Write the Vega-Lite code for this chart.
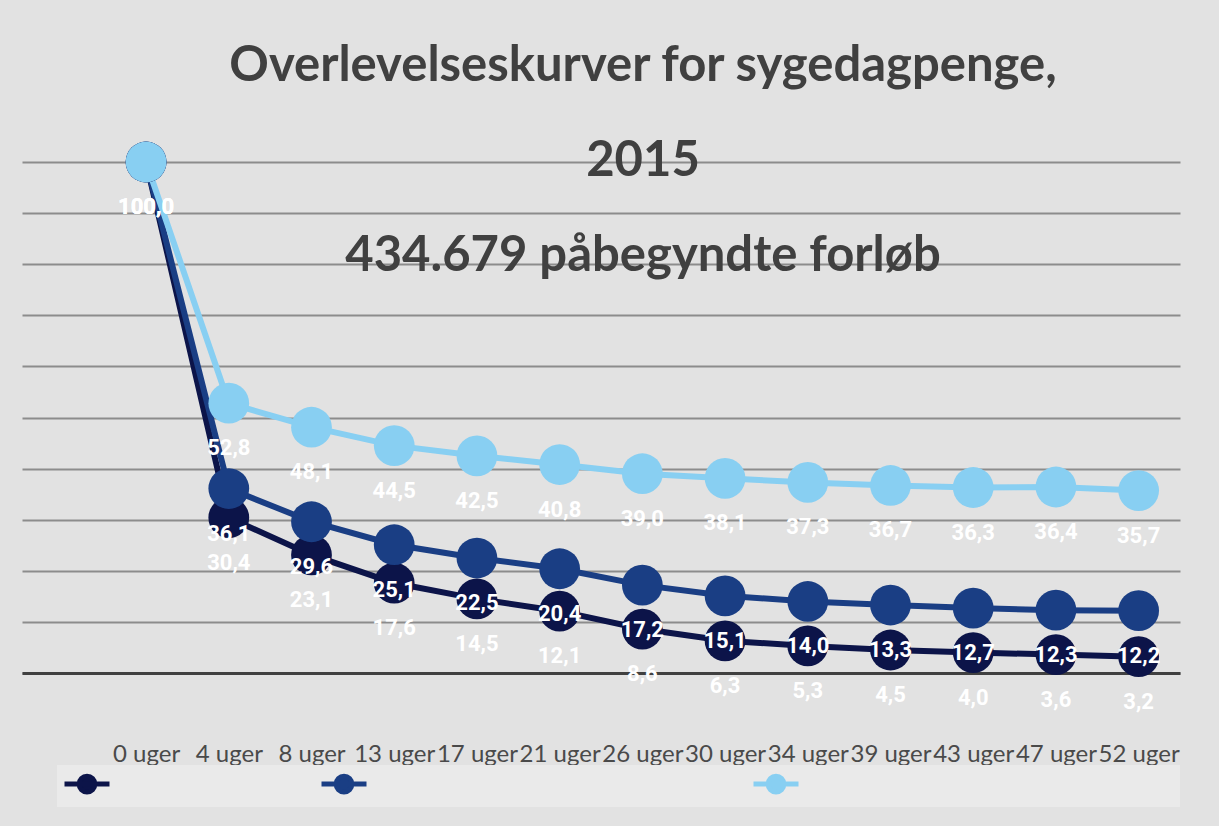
{
  "$schema": "https://vega.github.io/schema/vega-lite/v6.json",
  "autosize": {"type": "none"},
  "width": 1158,
  "height": 511,
  "padding": {"left": 22, "top": 162, "right": 39, "bottom": 153},
  "background": "#e2e2e2",
  "title": {
    "text": ["Overlevelseskurver for sygedagpenge,", "2015", "434.679 påbegyndte forløb"],
    "font": "Lato",
    "fontWeight": "bold",
    "fontSize": 49,
    "color": "#404040",
    "lineHeight": 95,
    "anchor": "middle",
    "frame": "group",
    "dx": 42,
    "dy": 143
  },
  "config": {
    "view": {"stroke": null},
    "locale": {"number": {"decimal": ",", "thousands": ".", "grouping": [3], "currency": ["", " kr."]}}
  },
  "data": {
    "values": [
      {"uge": "0 uger", "s": "a", "v": 100},
      {"uge": "4 uger", "s": "a", "v": 30.4},
      {"uge": "8 uger", "s": "a", "v": 23.1},
      {"uge": "13 uger", "s": "a", "v": 17.6},
      {"uge": "17 uger", "s": "a", "v": 14.5},
      {"uge": "21 uger", "s": "a", "v": 12.1},
      {"uge": "26 uger", "s": "a", "v": 8.6},
      {"uge": "30 uger", "s": "a", "v": 6.3},
      {"uge": "34 uger", "s": "a", "v": 5.3},
      {"uge": "39 uger", "s": "a", "v": 4.5},
      {"uge": "43 uger", "s": "a", "v": 4.0},
      {"uge": "47 uger", "s": "a", "v": 3.6},
      {"uge": "52 uger", "s": "a", "v": 3.2},
      {"uge": "0 uger", "s": "b", "v": 100},
      {"uge": "4 uger", "s": "b", "v": 36.1},
      {"uge": "8 uger", "s": "b", "v": 29.6},
      {"uge": "13 uger", "s": "b", "v": 25.1},
      {"uge": "17 uger", "s": "b", "v": 22.5},
      {"uge": "21 uger", "s": "b", "v": 20.4},
      {"uge": "26 uger", "s": "b", "v": 17.2},
      {"uge": "30 uger", "s": "b", "v": 15.1},
      {"uge": "34 uger", "s": "b", "v": 14.0},
      {"uge": "39 uger", "s": "b", "v": 13.3},
      {"uge": "43 uger", "s": "b", "v": 12.7},
      {"uge": "47 uger", "s": "b", "v": 12.3},
      {"uge": "52 uger", "s": "b", "v": 12.2},
      {"uge": "0 uger", "s": "c", "v": 100},
      {"uge": "4 uger", "s": "c", "v": 52.8},
      {"uge": "8 uger", "s": "c", "v": 48.1},
      {"uge": "13 uger", "s": "c", "v": 44.5},
      {"uge": "17 uger", "s": "c", "v": 42.5},
      {"uge": "21 uger", "s": "c", "v": 40.8},
      {"uge": "26 uger", "s": "c", "v": 39.0},
      {"uge": "30 uger", "s": "c", "v": 38.1},
      {"uge": "34 uger", "s": "c", "v": 37.3},
      {"uge": "39 uger", "s": "c", "v": 36.7},
      {"uge": "43 uger", "s": "c", "v": 36.3},
      {"uge": "47 uger", "s": "c", "v": 36.4},
      {"uge": "52 uger", "s": "c", "v": 35.7}
    ]
  },
  "encoding": {
    "x": {
      "field": "uge", "type": "ordinal", "sort": null,
      "scale": {"type": "point", "padding": 0.5, "domain": ["", "0 uger", "4 uger", "8 uger", "13 uger", "17 uger", "21 uger", "26 uger", "30 uger", "34 uger", "39 uger", "43 uger", "47 uger", "52 uger"]},
      "axis": {
        "title": null, "labelAngle": 0, "labelFont": "Lato", "labelFontSize": 24,
        "labelColor": "#4a4a4a", "labelPadding": 69, "ticks": false,
        "domainColor": "#404040", "domainWidth": 3, "grid": false, "labelOverlap": false
      }
    },
    "y": {
      "field": "v", "type": "quantitative",
      "scale": {"domain": [0, 100], "nice": false},
      "axis": {
        "title": null, "labels": false, "ticks": false, "domain": false,
        "values": [0, 10, 20, 30, 40, 50, 60, 70, 80, 90, 100],
        "gridColor": "#8c8c8c", "gridWidth": 2, "gridOpacity": 1
      }
    }
  },
  "layer": [
    {
      "mark": {"type": "line", "strokeWidth": 6},
      "encoding": {
        "color": {
          "field": "s", "type": "nominal",
          "scale": {"domain": ["a", "b", "c"], "range": ["#0c1449", "#1a3e84", "#88cff2"]},
          "legend": {
            "title": null, "orient": "none", "legendX": 35, "legendY": 603,
            "direction": "horizontal", "fillColor": "#eaeaea", "padding": 5,
            "symbolType": "M-2,0L2,0M-0.7,0A0.7,0.7,0,1,0,0.7,0A0.7,0.7,0,1,0,-0.7,0Z",
            "symbolSize": 506, "symbolStrokeWidth": 5, "symbolOffset": 11,
            "labelFont": "Liberation Sans", "labelFontSize": 10, "labelOffset": 0,
            "columnPadding": 0, "labelLimit": 1000, "labelOpacity": 0,
            "labelExpr": "datum.value == 'a' ? pad('', 42, 'x') : datum.value == 'b' ? pad('', 77, 'x') : pad('', 77, 'x')"
          }
        }
      }
    },
    {
      "mark": {"type": "point", "filled": true, "size": 1662, "opacity": 1},
      "encoding": {"color": {"field": "s", "type": "nominal"}}
    },
    {
      "mark": {"type": "text", "dy": 45, "color": "white", "font": "Roboto", "fontWeight": "bold", "fontSize": 22, "baseline": "middle"},
      "encoding": {"text": {"field": "v", "type": "quantitative", "format": ".1f"}}
    }
  ]
}
